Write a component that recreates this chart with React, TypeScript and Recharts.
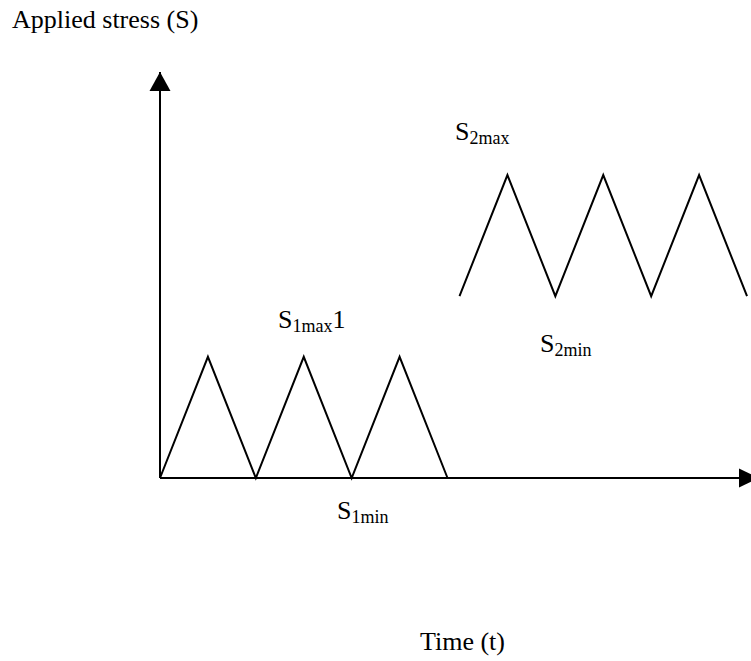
import React from 'react';
import { LineChart, Line, XAxis, YAxis, ReferenceDot, ReferenceLine } from 'recharts';

// first loading block (low amplitude) and second block (high amplitude)
const lowTime = [0, 1, 2, 3, 4, 5, 6];
const lowStress = [0, 2, 0, 2, 0, 2, 0];
const highTime = [6.25, 7.25, 8.25, 9.25, 10.25, 11.25, 12.25];
const highStress = [3, 5, 3, 5, 3, 5, 3];
const timeDomain = [0, 12.5];
const stressDomain = [0, 6.7];

const lowBlock = lowTime.map((t, i) => ({ t, s: lowStress[i] }));
const highBlock = highTime.map((t, i) => ({ t, s: highStress[i] }));

const FONT = '"Liberation Serif", "Times New Roman", serif';

function UpArrow(props: any) {
  const { cx, cy } = props;
  return <polygon points={`${cx},${cy} ${cx - 10.5},${cy + 19} ${cx + 10.5},${cy + 19}`} fill="#000" />;
}

function RightArrow(props: any) {
  const { cx, cy } = props;
  return <polygon points={`${cx},${cy} ${cx - 20},${cy - 9.5} ${cx - 20},${cy + 9.5}`} fill="#000" />;
}

function Sub({ x, y, main, sub, tail }: { x: number; y: number; main: string; sub: string; tail?: string }) {
  return (
    <text x={x} y={y} fontSize={26} fontFamily={FONT} fill="#000">
      <tspan>{main}</tspan>
      <tspan fontSize={18} dy={4}>{sub}</tspan>
      {tail ? <tspan fontSize={26} dy={-4}>{tail}</tspan> : null}
    </text>
  );
}

export default function App() {
  return (
    <div style={{ position: 'absolute', left: 0, top: 0, width: 751, height: 661, overflow: 'hidden', background: '#fff' }}>
      <LineChart width={780} height={661} margin={{ top: 72, right: 21, bottom: 183, left: 160 }}>
        <XAxis type="number" dataKey="t" domain={timeDomain} hide allowDuplicatedCategory={false} />
        <YAxis type="number" domain={stressDomain} hide />
        {/* axes drawn as reference lines so they sit exactly on t=0 and S=0 */}
        <ReferenceLine x={0} stroke="#000" strokeWidth={2} ifOverflow="visible" />
        <ReferenceLine y={0} stroke="#000" strokeWidth={2} ifOverflow="visible" />
        <Line
          data={lowBlock}
          dataKey="s"
          type="linear"
          stroke="#000"
          strokeWidth={2}
          dot={false}
          isAnimationActive={false}
        />
        <Line
          data={highBlock}
          dataKey="s"
          type="linear"
          stroke="#000"
          strokeWidth={2}
          dot={false}
          isAnimationActive={false}
        />
        <ReferenceDot x={0} y={stressDomain[1]} ifOverflow="visible" shape={UpArrow} />
        <ReferenceDot x={timeDomain[1]} y={0} ifOverflow="visible" shape={RightArrow} />
      </LineChart>
      <svg width={751} height={661} style={{ position: 'absolute', left: 0, top: 0, pointerEvents: 'none' }}>
        <text x={12} y={28} fontSize={26} fontFamily={FONT} fill="#000">Applied stress (S)</text>
        <Sub x={455} y={140} main="S" sub="2max" />
        <Sub x={278} y={328} main="S" sub="1max" tail="1" />
        <Sub x={540} y={352} main="S" sub="2min" />
        <Sub x={337} y={519} main="S" sub="1min" />
        <text x={420} y={650} fontSize={26} fontFamily={FONT} fill="#000">Time (t)</text>
      </svg>
    </div>
  );
}
